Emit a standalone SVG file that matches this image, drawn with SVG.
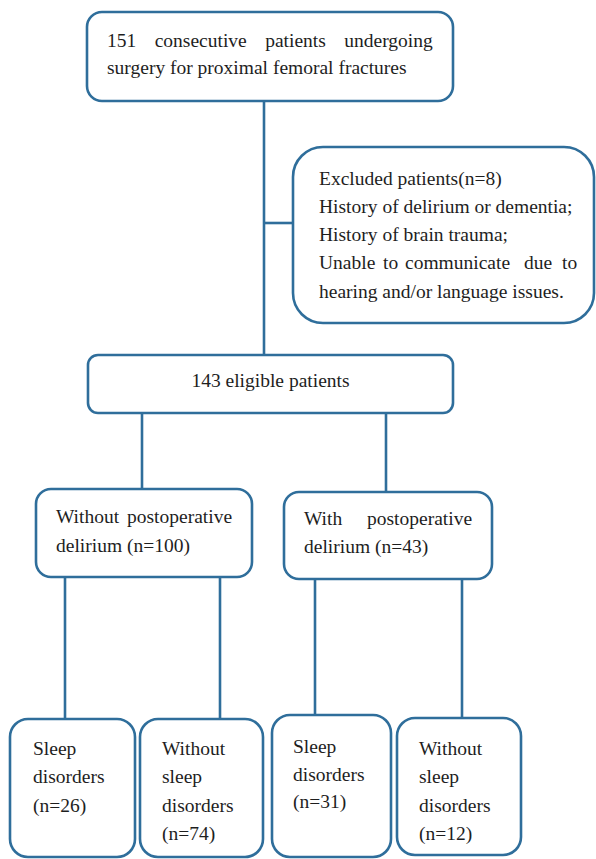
<svg xmlns="http://www.w3.org/2000/svg" width="596" height="859" viewBox="0 0 596 859">
<style>
.box{fill:#ffffff;stroke:#2f6e9b;stroke-width:2.6}
.ln{fill:none;stroke:#2f6e9b;stroke-width:2.6}
text{font-family:'Liberation Serif','Times New Roman',serif;font-size:19.5px;fill:#1e1e1e}
</style>
<rect width="596" height="859" fill="#ffffff"/>
<g id="connectors">
<line class="ln" x1="264" y1="101" x2="264" y2="355"/>
<line class="ln" x1="264" y1="223" x2="293" y2="223"/>
<line class="ln" x1="142" y1="413" x2="142" y2="489"/>
<line class="ln" x1="386" y1="413" x2="386" y2="492"/>
<line class="ln" x1="65" y1="577" x2="65" y2="719"/>
<line class="ln" x1="220" y1="577" x2="220" y2="719"/>
<line class="ln" x1="315" y1="579" x2="315" y2="715"/>
<line class="ln" x1="462" y1="579" x2="462" y2="718"/>
</g>
<g id="n1">
<rect class="box" x="87" y="12" width="366" height="89" rx="15"/>
<text y="47"><tspan x="107">151</tspan><tspan x="154.7">consecutive</tspan><tspan x="265.2">patients</tspan><tspan x="344.3">undergoing</tspan></text>
<text x="107" y="74">surgery for proximal femoral fractures</text>
</g>
<g id="excluded">
<rect class="box" x="293" y="147" width="301" height="176" rx="30"/>
<text x="319" y="185">Excluded patients(n=8)</text>
<text x="319" y="213">History of delirium or dementia;</text>
<text x="319" y="241">History of brain trauma;</text>
<text y="269"><tspan x="319">Unable</tspan><tspan x="383">to</tspan><tspan x="405">communicate</tspan><tspan x="524">due</tspan><tspan x="562">to</tspan></text>
<text x="319" y="298">hearing and/or language issues.</text>
</g>
<g id="eligible">
<rect class="box" x="88" y="355" width="365" height="58" rx="10"/>
<text x="270.5" y="387" text-anchor="middle">143 eligible patients</text>
</g>
<g id="without-delirium">
<rect class="box" x="36" y="489" width="216" height="88" rx="15"/>
<text y="523"><tspan x="56">Without</tspan><tspan x="127">postoperative</tspan></text>
<text x="56" y="552">delirium (n=100)</text>
</g>
<g id="with-delirium">
<rect class="box" x="284" y="492" width="208" height="87" rx="15"/>
<text y="525"><tspan x="304">With</tspan><tspan x="367">postoperative</tspan></text>
<text x="304" y="553">delirium (n=43)</text>
</g>
<g id="b1">
<rect class="box" x="10" y="719" width="125" height="138" rx="18"/>
<text x="33" y="755">Sleep</text>
<text x="33" y="783">disorders</text>
<text x="33" y="812">(n=26)</text>
</g>
<g id="b2">
<rect class="box" x="140" y="719" width="123" height="138" rx="18"/>
<text x="162" y="755">Without</text>
<text x="162" y="783">sleep</text>
<text x="162" y="812">disorders</text>
<text x="162" y="840">(n=74)</text>
</g>
<g id="b3">
<rect class="box" x="272" y="715" width="119" height="142" rx="18"/>
<text x="293" y="753">Sleep</text>
<text x="293" y="781">disorders</text>
<text x="293" y="808">(n=31)</text>
</g>
<g id="b4">
<rect class="box" x="397" y="718" width="124" height="137" rx="18"/>
<text x="419" y="755">Without</text>
<text x="419" y="783">sleep</text>
<text x="419" y="812">disorders</text>
<text x="419" y="840">(n=12)</text>
</g>
</svg>
